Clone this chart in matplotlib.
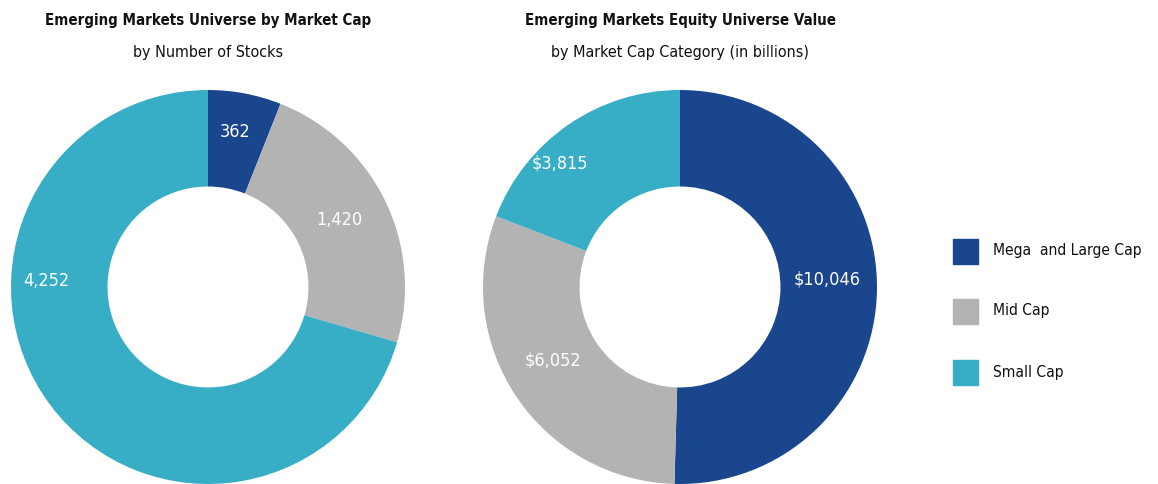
import matplotlib
matplotlib.use("Agg")
import matplotlib.pyplot as plt
from matplotlib.font_manager import fontManager
import numpy as np

names = {f.name for f in fontManager.ttflist}
FAM = ['Liberation Sans Narrow', 'DejaVu Sans'] if 'Liberation Sans Narrow' in names else ['DejaVu Sans']
STRETCH = 'normal' if FAM[0] == 'Liberation Sans Narrow' else 'condensed'
plt.rcParams['font.family'] = FAM

categories = ["Mega  and Large Cap", "Mid Cap", "Small Cap"]
stocks_count = [362, 1420, 4252]
stocks_labels = ["362", "1,420", "4,252"]
value_billions = [10046, 6052, 3815]
value_labels = ["$10,046", "$6,052", "$3,815"]
colors = ["#1a468e", "#b3b3b3", "#37aec6"]

left_title = "Emerging Markets Universe by Market Cap"
left_sub = "by Number of Stocks"
right_title = "Emerging Markets Equity Universe Value"
right_sub = "by Market Cap Category (in billions)"

# label placement in polar (deg from 12 o'clock clockwise, radius fraction)
left_label_pos = [(10, 0.80), (63, 0.75), (272, 0.82)]
right_label_pos = [(87, 0.75), (240, 0.745), (316, 0.875)]

W, H = 1158, 484
fig = plt.figure(figsize=(W / 100, H / 100), dpi=100)

R = 197

def donut(cx, cy, vals, labels, lpos):
    ax = fig.add_axes([(cx - R) / W, 1 - (cy + R) / H, 2 * R / W, 2 * R / H])
    ax.pie(vals, colors=colors, startangle=90, counterclock=False,
           wedgeprops=dict(width=0.49, linewidth=0), radius=1.0)
    for lab, (ang, r) in zip(labels, lpos):
        a = np.deg2rad(ang)
        ax.text(r * np.sin(a), r * np.cos(a), lab, ha='center', va='center',
                color='white', fontsize=13, fontstretch=STRETCH)
    ax.set_xlim(-1, 1)
    ax.set_ylim(-1, 1)
    ax.set_aspect('equal')
    ax.axis('off')
    return ax

donut(208, 287, stocks_count, stocks_labels, left_label_pos)
donut(680, 287, value_billions, value_labels, right_label_pos)

for cx, t, s in [(208, left_title, left_sub), (680, right_title, right_sub)]:
    fig.text(cx / W, 1 - 20 / H, t, ha='center', va='center', fontsize=10.8,
             fontweight='bold', fontstretch=STRETCH, color='#111111')
    fig.text(cx / W, 1 - 52 / H, s, ha='center', va='center', fontsize=11.5,
             fontstretch=STRETCH, color='#111111')

# legend
ys = [251, 311, 372]
for cat, col, y in zip(categories, colors, ys):
    fig.patches.append(plt.Rectangle((953 / W, 1 - (y + 12.5) / H), 25 / W, 25 / H,
                                     transform=fig.transFigure, color=col, figure=fig))
    fig.text(993 / W, 1 - y / H, cat, ha='left', va='center', fontsize=11.2,
             fontstretch=STRETCH, color='#111111')

fig.savefig("out.png", dpi=100)
